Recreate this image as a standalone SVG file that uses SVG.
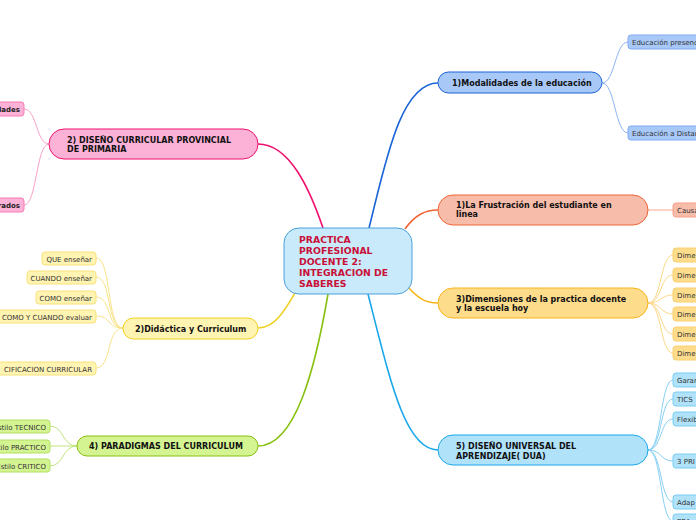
<svg xmlns="http://www.w3.org/2000/svg" width="696" height="520" viewBox="0 0 696 520">
<style>
text{font-family:"DejaVu Sans",Verdana,sans-serif}
.mt{font-size:8px;font-weight:bold;fill:#111}
.st{font-size:7px;fill:#333}
.sb{font-size:7px;font-weight:bold;fill:#222}
.c{fill:none;stroke-width:1}
.m{fill:none;stroke-width:1.6}
</style>
<rect width="696" height="520" fill="#fff"/>
<g id="connectors">
<path class="m" stroke="#1a64d6" d="M369,228 C385,165 400,83 438,83"/>
<path class="m" stroke="#f26436" d="M405,229 C415,215 425,210 438,210"/>
<path class="m" stroke="#f8b41a" d="M408,287 C418,298 425,303 438,303"/>
<path class="m" stroke="#1aa8ea" d="M368,294 C390,380 405,450 438,450"/>
<path class="m" stroke="#f0106e" d="M258,144 C290,144 310,190 323,228"/>
<path class="m" stroke="#f0d020" d="M295,293 C285,310 275,328 258,328"/>
<path class="m" stroke="#88c010" d="M328,294 C315,370 295,446 258,446"/>
<g class="c" stroke="#8ab4f0">
<path d="M602,83 C615,83 615,42 628,42"/>
<path d="M602,83 C615,83 615,133 628,133"/>
</g>
<path class="c" stroke="#f8a890" d="M648,210 L673,210"/>
<g class="c" stroke="#fcd888">
<path d="M648,303 C662,303 660,255 673,255"/>
<path d="M648,303 C662,303 660,275 673,275"/>
<path d="M648,303 C662,303 660,295 673,295"/>
<path d="M648,303 C662,303 660,314 673,314"/>
<path d="M648,303 C662,303 660,334 673,334"/>
<path d="M648,303 C662,303 660,353 673,353"/>
</g>
<g class="c" stroke="#88d0f4">
<path d="M648,450 C662,450 660,380 673,380"/>
<path d="M648,450 C662,450 660,399 673,399"/>
<path d="M648,450 C662,450 660,419 673,419"/>
<path d="M648,450 C662,450 660,461 673,461"/>
<path d="M648,450 C662,450 660,502 673,502"/>
<path d="M648,450 C662,450 660,521 673,521"/>
</g>
<g class="c" stroke="#f8a0c8">
<path d="M49,144 C36,144 37,109 24,109"/>
<path d="M49,144 C36,144 37,205 24,205"/>
</g>
<g class="c" stroke="#f8e488">
<path d="M123,328 C106,328 112,258 96,258"/>
<path d="M123,328 C106,328 112,277 96,277"/>
<path d="M123,328 C106,328 112,297 96,297"/>
<path d="M123,328 C106,328 112,316 96,316"/>
<path d="M123,328 C106,328 112,368 96,368"/>
</g>
<g class="c" stroke="#c0e480">
<path d="M77,446 C62,446 64,426 50,426"/>
<path d="M77,446 C62,446 64,446 50,446"/>
<path d="M77,446 C62,446 64,466 50,466"/>
</g>
</g>
<g id="center">
<rect x="284" y="228" width="128" height="66" rx="15" fill="#c8eafa" stroke="#4aa0dc" stroke-width="1"/>
<text x="299" y="243" font-size="9.3" font-weight="bold" fill="#c81038"><tspan x="299">PRACTICA</tspan><tspan x="299" dy="11">PROFESIONAL</tspan><tspan x="299" dy="11">DOCENTE 2:</tspan><tspan x="299" dy="11">INTEGRACION DE</tspan><tspan x="299" dy="11">SABERES</tspan></text>
</g>
<g id="modalidades">
<rect x="438" y="72" width="164" height="21" rx="10.5" fill="#a8c8f8" stroke="#1a64d6"/>
<text class="mt" x="452" y="86">1)Modalidades de la educación</text>
</g>
<g id="presencial">
<rect x="628" y="35" width="100" height="14" rx="3" fill="#a8c8f8" stroke="#80aaf0"/>
<text class="st" x="632" y="45">Educación presencial</text>
</g>
<g id="distancia">
<rect x="628" y="126" width="100" height="14" rx="3" fill="#a8c8f8" stroke="#80aaf0"/>
<text class="st" x="632" y="136">Educación a Distancia</text>
</g>
<g id="frustracion">
<rect x="438" y="195" width="210" height="30" rx="15" fill="#f8bcaa" stroke="#f26436"/>
<text class="mt" x="456" y="208"><tspan x="456">1)La Frustración del estudiante en</tspan><tspan x="456" dy="9">linea</tspan></text>
</g>
<g id="causa">
<rect x="673" y="203" width="60" height="14" rx="3" fill="#f8bcaa" stroke="#f8a088"/>
<text class="st" x="677" y="213">Causa</text>
</g>
<g id="dimensiones">
<rect x="438" y="288" width="210" height="30" rx="15" fill="#fddc8c" stroke="#f8b41a"/>
<text class="mt" x="456" y="302"><tspan x="456">3)Dimensiones de la practica docente</tspan><tspan x="456" dy="9">y la escuela hoy</tspan></text>
</g>
<g id="dim1"><rect x="673" y="248" width="60" height="14" rx="3" fill="#fddc8c" stroke="#fcd070"/><text class="st" x="677" y="258">Dime</text></g>
<g id="dim2"><rect x="673" y="268" width="60" height="14" rx="3" fill="#fddc8c" stroke="#fcd070"/><text class="st" x="677" y="278">Dime</text></g>
<g id="dim3"><rect x="673" y="288" width="60" height="14" rx="3" fill="#fddc8c" stroke="#fcd070"/><text class="st" x="677" y="298">Dime</text></g>
<g id="dim4"><rect x="673" y="307" width="60" height="14" rx="3" fill="#fddc8c" stroke="#fcd070"/><text class="st" x="677" y="317">Dime</text></g>
<g id="dim5"><rect x="673" y="327" width="60" height="14" rx="3" fill="#fddc8c" stroke="#fcd070"/><text class="st" x="677" y="337">Dime</text></g>
<g id="dim6"><rect x="673" y="346" width="60" height="14" rx="3" fill="#fddc8c" stroke="#fcd070"/><text class="st" x="677" y="356">Dime</text></g>
<g id="dua">
<rect x="438" y="435" width="210" height="30" rx="15" fill="#b0e2fa" stroke="#1aa8ea"/>
<text class="mt" x="456" y="449"><tspan x="456">5) DISEÑO UNIVERSAL DEL</tspan><tspan x="456" dy="10">APRENDIZAJE( DUA)</tspan></text>
</g>
<g id="dua1"><rect x="673" y="373" width="60" height="14" rx="3" fill="#b0e2fa" stroke="#78ccf2"/><text class="st" x="677" y="383">Garan</text></g>
<g id="dua2"><rect x="673" y="392" width="60" height="14" rx="3" fill="#b0e2fa" stroke="#78ccf2"/><text class="st" x="677" y="402">TICS</text></g>
<g id="dua3"><rect x="673" y="412" width="60" height="14" rx="3" fill="#b0e2fa" stroke="#78ccf2"/><text class="st" x="677" y="422">Flexib</text></g>
<g id="dua4"><rect x="673" y="454" width="60" height="14" rx="3" fill="#b0e2fa" stroke="#78ccf2"/><text class="st" x="677" y="464">3 PRI</text></g>
<g id="dua5"><rect x="673" y="495" width="60" height="14" rx="3" fill="#b0e2fa" stroke="#78ccf2"/><text class="st" x="677" y="505">Adap</text></g>
<g id="dua6"><rect x="673" y="514" width="60" height="14" rx="3" fill="#b0e2fa" stroke="#78ccf2"/><text class="st" x="677" y="524">PRA</text></g>
<g id="diseno">
<rect x="49" y="129" width="209" height="30" rx="15" fill="#fbb2d6" stroke="#f0106e"/>
<text class="mt" x="67" y="143"><tspan x="67">2) DISEÑO CURRICULAR PROVINCIAL</tspan><tspan x="67" dy="9">DE PRIMARIA</tspan></text>
</g>
<g id="pink1"><rect x="-60" y="102" width="84" height="14" rx="3" fill="#fbb2d6" stroke="#f47ab4"/><text class="sb" x="20" y="112" text-anchor="end">lades</text></g>
<g id="pink2"><rect x="-60" y="198" width="84" height="14" rx="3" fill="#fbb2d6" stroke="#f47ab4"/><text class="sb" x="20" y="208" text-anchor="end">rados</text></g>
<g id="didactica">
<rect x="123" y="318" width="135" height="21" rx="10.5" fill="#fff4b2" stroke="#f0d020"/>
<text class="mt" x="135" y="332">2)Didáctica y Curriculum</text>
</g>
<g id="y1"><rect x="42" y="252" width="54" height="13" rx="3" fill="#fff4b2" stroke="#f8e27a"/><text class="st" x="92" y="261.5" text-anchor="end">QUE enseñar</text></g>
<g id="y2"><rect x="27" y="271" width="69" height="13" rx="3" fill="#fff4b2" stroke="#f8e27a"/><text class="st" x="92" y="280.5" text-anchor="end">CUANDO enseñar</text></g>
<g id="y3"><rect x="36" y="291" width="60" height="13" rx="3" fill="#fff4b2" stroke="#f8e27a"/><text class="st" x="92" y="300.5" text-anchor="end">COMO enseñar</text></g>
<g id="y4"><rect x="-20" y="310" width="116" height="13" rx="3" fill="#fff4b2" stroke="#f8e27a"/><text class="st" x="92" y="319.5" text-anchor="end">COMO Y CUANDO evaluar</text></g>
<g id="y5"><rect x="-20" y="362" width="116" height="13" rx="3" fill="#fff4b2" stroke="#f8e27a"/><text class="st" x="92" y="371.5" text-anchor="end" font-size="7.3">CIFICACION CURRICULAR</text></g>
<g id="paradigmas">
<rect x="77" y="436" width="181" height="20" rx="10" fill="#d4f492" stroke="#88c010"/>
<text class="mt" x="89" y="449">4) PARADIGMAS DEL CURRICULUM</text>
</g>
<g id="g1"><rect x="-40" y="420" width="90" height="13" rx="3" fill="#d4f492" stroke="#b4e064"/><text class="st" x="46" y="429.5" text-anchor="end">Estilo TECNICO</text></g>
<g id="g2"><rect x="-40" y="440" width="90" height="13" rx="3" fill="#d4f492" stroke="#b4e064"/><text class="st" x="46" y="449.5" text-anchor="end">Estilo PRACTICO</text></g>
<g id="g3"><rect x="-40" y="459" width="90" height="13" rx="3" fill="#d4f492" stroke="#b4e064"/><text class="st" x="46" y="468.5" text-anchor="end">Estilo CRITICO</text></g>
</svg>
